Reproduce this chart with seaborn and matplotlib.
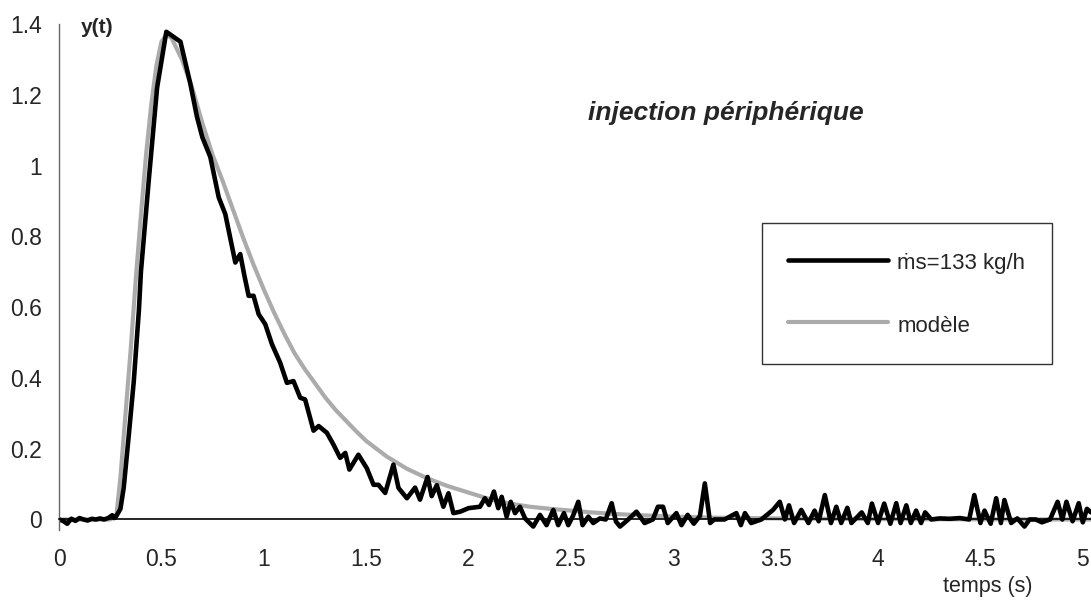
import numpy as np
import pandas as pd
import matplotlib
matplotlib.use("Agg")
import matplotlib.pyplot as plt
import seaborn as sns

t_meas = [0.00, 0.02, 0.04, 0.06, 0.08, 0.10, 0.12, 0.14, 0.16, 0.18, 0.20, 0.22, 0.24, 0.26, 0.27, 0.28,
          0.30, 0.316, 0.341, 0.365, 0.39, 0.40, 0.44, 0.479, 0.524, 0.593, 0.641, 0.674, 0.70, 0.739,
          0.78, 0.812, 0.837, 0.861, 0.885, 0.905, 0.926, 0.95, 0.975, 1.007, 1.04, 1.08, 1.113, 1.145,
          1.178, 1.202, 1.243, 1.268, 1.308, 1.34, 1.373, 1.398, 1.418, 1.462, 1.503, 1.536, 1.56, 1.593,
          1.633, 1.658, 1.699, 1.739, 1.763, 1.80, 1.82, 1.845, 1.877, 1.902, 1.926, 1.959, 2.0, 2.056,
          2.08, 2.10, 2.124, 2.145, 2.162, 2.186, 2.206, 2.227, 2.251, 2.276, 2.316, 2.349, 2.381, 2.414,
          2.438, 2.466, 2.487, 2.51, 2.536, 2.557, 2.585, 2.609, 2.641, 2.67, 2.699, 2.72, 2.74, 2.78,
          2.82, 2.86, 2.90, 2.925, 2.95, 2.973, 3.015, 3.04, 3.07, 3.10, 3.13, 3.154, 3.18, 3.20, 3.25,
          3.308, 3.33, 3.35, 3.38, 3.43, 3.487, 3.52, 3.545, 3.565, 3.59, 3.625, 3.66, 3.69, 3.71, 3.74,
          3.77, 3.796, 3.82, 3.85, 3.87, 3.92, 3.95, 3.97, 4.00, 4.03, 4.06, 4.089, 4.11, 4.138, 4.16,
          4.186, 4.21, 4.23, 4.26, 4.30, 4.35, 4.40, 4.445, 4.47, 4.50, 4.52, 4.55, 4.577, 4.60, 4.617,
          4.65, 4.68, 4.715, 4.74, 4.77, 4.80, 4.84, 4.877, 4.90, 4.92, 4.95, 4.98, 5.00, 5.02, 5.04]
y_meas = [0.0, -0.004, -0.012, 0.002, -0.004, 0.004, 0.0, -0.003, 0.002, 0.0, 0.003, 0.0, 0.004, 0.012, 0.004, 0.01,
          0.03, 0.09, 0.24, 0.39, 0.59, 0.70, 0.97, 1.22, 1.378, 1.35, 1.232, 1.137, 1.08, 1.024,
          0.91, 0.863, 0.793, 0.726, 0.75, 0.69, 0.632, 0.632, 0.58, 0.552, 0.495, 0.443, 0.386, 0.391,
          0.344, 0.339, 0.251, 0.264, 0.245, 0.212, 0.174, 0.188, 0.141, 0.183, 0.145, 0.098, 0.098, 0.075,
          0.155, 0.089, 0.06, 0.09, 0.056, 0.12, 0.066, 0.097, 0.036, 0.074, 0.018, 0.022, 0.032, 0.036,
          0.06, 0.041, 0.079, 0.032, 0.064, 0.008, 0.05, 0.018, 0.036, 0.003, -0.02, 0.013, -0.016, 0.027,
          -0.016, 0.018, -0.016, 0.01, 0.05, -0.016, 0.008, -0.01, 0.003, 0.0, 0.046, -0.006, -0.02, 0.0,
          0.022, -0.01, 0.0, 0.036, 0.036, -0.01, 0.018, -0.016, 0.013, -0.012, 0.01, 0.102, -0.01, 0.0, 0.0,
          0.018, -0.016, 0.018, -0.01, 0.0, 0.027, 0.05, 0.0, 0.04, -0.01, 0.027, -0.01, 0.025, -0.005, 0.069,
          -0.01, 0.036, -0.01, 0.033, -0.01, 0.02, -0.01, 0.045, -0.01, 0.045, -0.012, 0.046, -0.01, 0.04, -0.01,
          0.025, -0.01, 0.02, 0.0, 0.003, 0.002, 0.004, 0.0, 0.069, -0.01, 0.025, -0.012, 0.06, -0.01, 0.055,
          -0.01, 0.003, -0.02, 0.0, 0.0, -0.008, 0.0, 0.05, 0.0, 0.05, -0.005, 0.046, -0.008, 0.03, 0.02]

# model curve
t_model = [0.0, 0.25, 0.28, 0.30, 0.325, 0.35, 0.375, 0.40, 0.425, 0.45, 0.475, 0.50, 0.525, 0.55, 0.575,
           0.60, 0.65, 0.70, 0.75, 0.80, 0.85, 0.90, 0.95, 1.0, 1.05, 1.1, 1.15, 1.2, 1.25, 1.3, 1.35, 1.4,
           1.45, 1.5, 1.6, 1.7, 1.8, 1.9, 2.0, 2.1, 2.2, 2.3, 2.4, 2.5, 2.6, 2.7, 2.8, 3.0, 3.2, 3.5, 4.0,
           4.5, 5.04]
y_model = [0.0, 0.0, 0.01, 0.12, 0.30, 0.48, 0.68, 0.86, 1.03, 1.17, 1.28, 1.35, 1.37, 1.36, 1.33,
           1.30, 1.22, 1.12, 1.03, 0.955, 0.875, 0.795, 0.72, 0.65, 0.585, 0.525, 0.47, 0.425, 0.385, 0.345,
           0.31, 0.28, 0.25, 0.222, 0.178, 0.143, 0.116, 0.094, 0.076, 0.058, 0.045, 0.036, 0.03, 0.025,
           0.02, 0.016, 0.013, 0.008, 0.005, 0.003, 0.001, 0.0005, 0.0]

x_ticks = [0, 0.5, 1, 1.5, 2, 2.5, 3, 3.5, 4, 4.5, 5]
x_labels = ["0", "0.5", "1", "1.5", "2", "2.5", "3", "3.5", "4", "4.5", "5"]
y_ticks = [0, 0.2, 0.4, 0.6, 0.8, 1.0, 1.2, 1.4]
y_labels = ["0", "0.2", "0.4", "0.6", "0.8", "1", "1.2", "1.4"]

label_meas = "ṁs=133 kg/h"
label_model = "modèle"

sns.set_style("white")
plt.rcParams["font.family"] = ["Liberation Sans", "DejaVu Sans"]

df_meas = pd.DataFrame({"t": t_meas, "y": y_meas})
df_model = pd.DataFrame({"t": t_model, "y": y_model})

fig = plt.figure(figsize=(10.91, 6.0), dpi=100)
ax = fig.add_axes([0.0541, 0.1165, 0.9459, 0.8435])

sns.lineplot(data=df_model, x="t", y="y", ax=ax, color="#ababab", linewidth=3,
             estimator=None, sort=False, label=label_model)
sns.lineplot(data=df_meas, x="t", y="y", ax=ax, color="black", linewidth=3.3,
             estimator=None, sort=False, label=label_meas)

ax.set_xlim(0, 5.04)
ax.set_ylim(-0.03, 1.4)
ax.set_xticks(x_ticks)
ax.set_xticklabels(x_labels)
ax.set_yticks(y_ticks)
ax.set_yticklabels(y_labels)

for s in ["top", "right"]:
    ax.spines[s].set_visible(False)
ax.spines["bottom"].set_position(("data", 0))
ax.spines["bottom"].set_color("black")
ax.spines["bottom"].set_linewidth(1.2)
ax.spines["left"].set_color("#666666")
ax.spines["left"].set_linewidth(1)

ax.tick_params(axis="x", direction="inout", length=10, width=1, color="#555555",
               pad=15.5, labelsize=16.5)
ax.tick_params(axis="y", direction="inout", length=10, width=1, color="#333333",
               pad=7, labelsize=16.5)

ax.set_ylabel("")
ax.set_xlabel("temps (s)", fontsize=15.5)
ax.xaxis.set_label_coords(4.534 / 5.04, -0.112)
ax.xaxis.label.set_va("center")

ax.text(0.105, 1.39, "y(t)", fontsize=15, fontweight="bold", ha="left", va="center")

fig.text(0.6655, 0.8117, "injection périphérique", fontsize=19, fontweight="bold",
         fontstyle="italic", ha="center", va="center")

handles, labels = ax.get_legend_handles_labels()
leg = ax.legend(handles[::-1], labels[::-1], loc="upper left", bbox_to_anchor=(0.681, 0.607),
                borderaxespad=0, frameon=True, fancybox=False, shadow=False,
                fontsize=16, handlelength=4.5, handleheight=1.35, handletextpad=0.4,
                labelspacing=1.7, borderpad=1.2)
leg.get_frame().set_edgecolor("black")
leg.get_frame().set_linewidth(1)

fig.savefig("out.png", dpi=100)
